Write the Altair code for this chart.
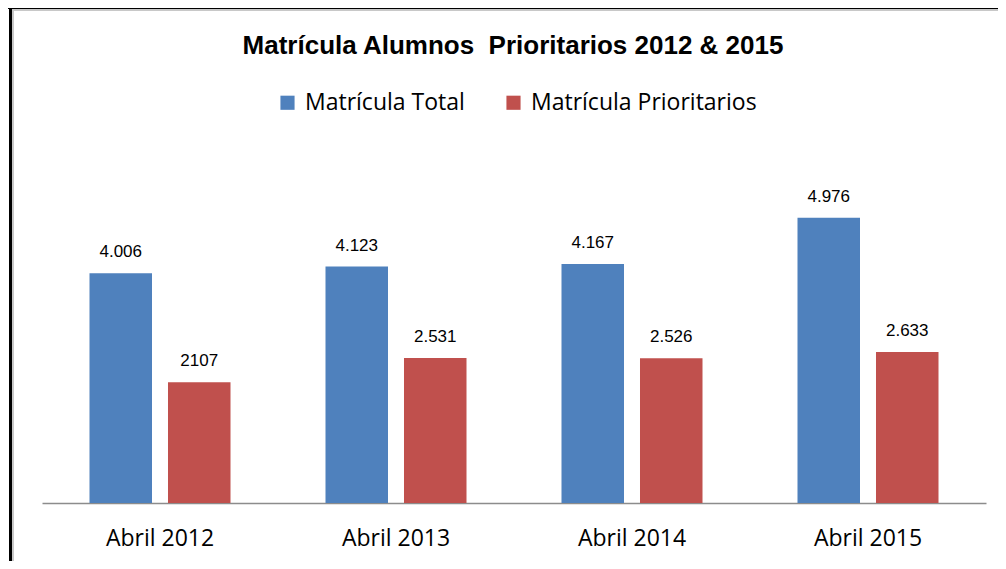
import altair as alt
import pandas as pd

title_text = "Matrícula Alumnos \u00a0Prioritarios 2012 & 2015"
categories = ["Abril 2012", "Abril 2013", "Abril 2014", "Abril 2015"]
series_names = ["Matrícula Total", "Matrícula Prioritarios"]
total_values = [4006, 4123, 4167, 4976]
prior_values = [2107, 2531, 2526, 2633]
total_labels = ["4.006", "4.123", "4.167", "4.976"]
prior_labels = ["2107", "2.531", "2.526", "2.633"]
colors = ["#4F81BD", "#C0504D"]

rows = []
for c, v, l in zip(categories, total_values, total_labels):
    rows.append({"cat": c, "serie": series_names[0], "val": v, "lab": l})
for c, v, l in zip(categories, prior_values, prior_labels):
    rows.append({"cat": c, "serie": series_names[1], "val": v, "lab": l})
df = pd.DataFrame(rows)
tdf = pd.DataFrame({"t": [title_text]})

W, H = 944, 344

x = alt.X("cat:N", sort=categories, title=None,
          scale=alt.Scale(paddingInner=0.4025, paddingOuter=0.20125),
          axis=alt.Axis(labelAngle=0, ticks=False, domainColor="#8c8c8c", domainWidth=1.5,
                        labelFont="Open Sans", labelFontSize=23, labelColor="#000000",
                        labelPadding=24, grid=False))
xo = alt.XOffset("serie:N", sort=series_names,
                 scale=alt.Scale(paddingInner=0.2038, paddingOuter=0))
y = alt.Y("val:Q", scale=alt.Scale(domain=[0, 6000]), axis=None)

bars = alt.Chart(df).mark_bar().encode(
    x=x, xOffset=xo, y=y,
    color=alt.Color("serie:N", sort=series_names,
                    scale=alt.Scale(domain=series_names, range=colors),
                    legend=alt.Legend(title=None, orient="none", direction="horizontal",
                                      legendX=234, legendY=-68, symbolType="square",
                                      symbolSize=200, symbolStrokeWidth=0, symbolOpacity=1,
                                      labelFont="Open Sans", labelFontSize=23,
                                      labelColor="#000000", labelOffset=6,
                                      columnPadding=37, labelLimit=400)),
)

text = alt.Chart(df).mark_text(baseline="alphabetic", dy=-16, font="Liberation Sans",
                               fontSize=17, color="#000000").encode(
    x=x, xOffset=xo, y=y, text="lab:N"
)

title = alt.Chart(tdf).mark_text(baseline="alphabetic", align="center", font="Liberation Sans",
                                 fontSize=26, fontWeight="bold", color="#000000").encode(
    x=alt.value(W / 2 - 1), y=alt.value(-105), text="t:N")

frame_top = alt.Chart(df).mark_rule(color="#000000", strokeWidth=3).encode(
    x=alt.value(-34), x2=alt.value(W + 20), y=alt.value(-151.5))
frame_left = alt.Chart(df).mark_rule(color="#000000", strokeWidth=3).encode(
    x=alt.value(-31.5), y=alt.value(-153), y2=alt.value(H + 70))
frame_top2 = alt.Chart(df).mark_rule(color="#c8c8c8", strokeWidth=2).encode(
    x=alt.value(-30), x2=alt.value(W + 20), y=alt.value(-149))
frame_left2 = alt.Chart(df).mark_rule(color="#c8c8c8", strokeWidth=2).encode(
    x=alt.value(-29), y=alt.value(-150), y2=alt.value(H + 70))

chart = alt.layer(frame_top, frame_left, frame_top2, frame_left2, bars, text, title).properties(
    width=W, height=H,
    autosize=alt.AutoSizeParams(type="none"),
    padding={"left": 34, "top": 151, "right": 12, "bottom": 58},
    background="#ffffff",
).configure_view(stroke=None)

chart.save("out.html", embed_options={"renderer": "svg", "actions": False})
